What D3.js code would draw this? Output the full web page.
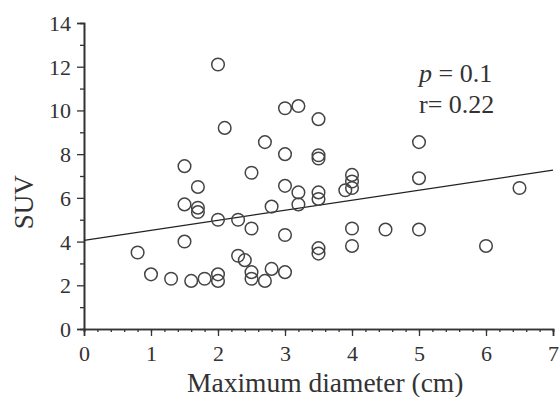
<!DOCTYPE html>
<html>
<head>
<meta charset="utf-8">
<script src="https://cdn.jsdelivr.net/npm/d3@7"></script>
<style>
  body { margin: 0; background: #fff; }
  svg { display: block; font-family: "Liberation Serif", "Times New Roman", serif; }
</style>
</head>
<body>
<svg id="chart" width="560" height="397"></svg>
<script>
// maximum diameter (cm) and SUV
var diameter = [0.8, 1.0, 1.3, 1.5, 1.5, 1.5, 1.6, 1.7, 1.7, 1.7, 1.8, 2.0, 2.0, 2.0, 2.0,
  2.1, 2.3, 2.3, 2.4, 2.5, 2.5, 2.5, 2.5, 2.7, 2.7, 2.8, 2.8, 3.0, 3.0, 3.0, 3.0, 3.0,
  3.2, 3.2, 3.2, 3.5, 3.5, 3.5, 3.5, 3.5, 3.5, 3.5, 3.9, 4.0, 4.0, 4.0, 4.0, 4.0,
  4.5, 5.0, 5.0, 5.0, 6.0, 6.5];
var suv = [3.5, 2.5, 2.3, 7.45, 5.7, 4.0, 2.2, 6.5, 5.55, 5.35, 2.3, 12.1, 5.0, 2.5, 2.2,
  9.2, 5.0, 3.35, 3.15, 7.15, 4.6, 2.6, 2.3, 8.55, 2.2, 5.6, 2.75, 10.1, 8.0, 6.55, 4.3, 2.6,
  10.2, 6.25, 5.7, 9.6, 7.95, 7.8, 6.25, 5.95, 3.7, 3.45, 6.35, 7.05, 6.75, 6.45, 4.6, 3.8,
  4.55, 8.55, 6.9, 4.55, 3.8, 6.45];
var fitIntercept = 4.05, fitSlope = 0.46;
var xTicks = [0, 1, 2, 3, 4, 5, 6, 7];
var yTicks = [0, 2, 4, 6, 8, 10, 12, 14];
var statLabels = ["p", "r= 0.22"];

(function() {
  var svg = d3.select("#chart");
  var margin = {top: 23, right: 7, bottom: 68, left: 84};
  var width = +svg.attr("width") - margin.left - margin.right,
      height = +svg.attr("height") - margin.top - margin.bottom;
  var ink = "#333";
  var serif = "'Liberation Serif', 'Times New Roman', serif";

  var x = d3.scaleLinear().domain([0, 7]).range([0, width]);
  var y = d3.scaleLinear().domain([0, 14]).range([height, 0]);

  var g = svg.append("g")
    .attr("transform", "translate(" + margin.left + "," + margin.top + ")");

  // minor ticks first, under the main axes
  var xMinor = d3.axisBottom(x).tickValues(d3.range(0, 7.01, 0.2)).tickSize(3).tickFormat("");
  var yMinor = d3.axisLeft(y).tickValues(d3.range(1, 14, 2)).tickSize(4).tickFormat("");
  g.append("g").attr("transform", "translate(0," + height + ")").call(xMinor);
  g.append("g").call(yMinor);

  var xAxis = g.append("g")
    .attr("transform", "translate(0," + height + ")")
    .call(d3.axisBottom(x).tickValues(xTicks).tickSize(7).tickPadding(6).tickFormat(d3.format("d")));
  var yAxis = g.append("g")
    .call(d3.axisLeft(y).tickValues(yTicks).tickSize(7).tickPadding(6).tickFormat(d3.format("d")));

  xAxis.attr("font-family", serif).attr("font-size", 22);
  yAxis.attr("font-family", serif).attr("font-size", 22);
  g.selectAll(".domain").attr("stroke", ink).attr("stroke-width", 1.6);
  g.selectAll(".tick line").attr("stroke", ink).attr("stroke-width", 1.3);
  g.selectAll(".tick text").attr("fill", "#333");
  xAxis.selectAll(".tick text").attr("dy", "0.85em");
  yAxis.selectAll(".tick text").attr("dy", "0.34em");

  // regression line
  g.append("line")
    .attr("x1", x(0)).attr("y1", y(fitIntercept))
    .attr("x2", x(7)).attr("y2", y(fitIntercept + fitSlope * 7))
    .attr("stroke", "#222").attr("stroke-width", 1.3);

  // points
  g.selectAll(".pt")
    .data(d3.range(diameter.length))
    .enter().append("circle")
      .attr("class", "pt")
      .attr("cx", function(i) { return x(diameter[i]); })
      .attr("cy", function(i) { return y(suv[i]); })
      .attr("r", 6.3)
      .attr("fill", "none")
      .attr("stroke", "#444")
      .attr("stroke-width", 1.5);

  // stats
  var stat = g.append("text")
    .attr("x", x(5)).attr("y", y(11.3))
    .attr("fill", "#333").style("font-size", "26px");
  stat.append("tspan").style("font-style", "italic").text(statLabels[0]);
  stat.append("tspan").text(" = 0.1");
  g.append("text")
    .attr("x", x(5)).attr("y", y(9.86))
    .attr("fill", "#333").style("font-size", "26px")
    .text(statLabels[1]);

  // axis titles
  svg.append("text")
    .attr("x", margin.left + x(3.6)).attr("y", 392)
    .attr("text-anchor", "middle")
    .attr("fill", "#333").style("font-size", "27.5px")
    .text("Maximum diameter (cm)");
  svg.append("text")
    .attr("transform", "translate(33," + (margin.top + y(5.8)) + ") rotate(-90)")
    .attr("text-anchor", "middle")
    .attr("fill", "#333").style("font-size", "27px")
    .text("SUV");
})();
</script>
</body>
</html>
